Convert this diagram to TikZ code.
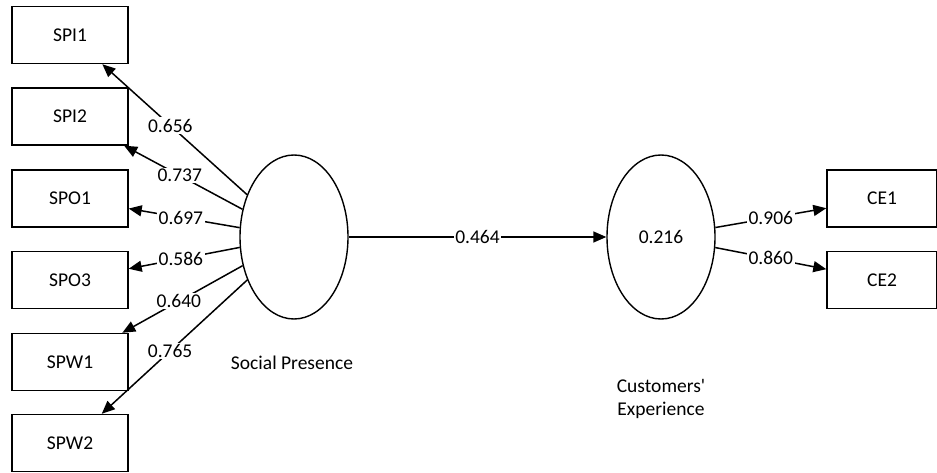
\documentclass[tikz,border=0pt]{standalone}
\usepackage{fontspec}
\setmainfont{Carlito}
\usetikzlibrary{shapes.geometric,arrows.meta}

\begin{document}
\begin{tikzpicture}
[every node/.style={inner sep=0pt, font=\fontsize{19.5pt}{23pt}\selectfont},
 item/.style={rectangle, minimum width=116pt, minimum height=57pt, line width=1.4pt, draw=black},
 latent/.style={ellipse, minimum width=108pt, minimum height=164pt, line width=1.4pt, draw=black},
 loading/.style={line width=1.5pt, -{Triangle[length=13pt,width=11pt]}, color=black},
 wlabel/.style={fill=white, inner sep=1.5pt, pos=0.53}]
\useasboundingbox (0pt,0pt) rectangle (937pt,-473pt);
% indicators of social presence
\node (SPI1) [item] at (70pt, -35pt) {SPI1};
\node (SPI2) [item] at (70pt, -116.5pt) {SPI2};
\node (SPO1) [item] at (70pt, -198.5pt) {SPO1};
\node (SPO3) [item] at (70pt, -280pt) {SPO3};
\node (SPW1) [item] at (70pt, -362pt) {SPW1};
\node (SPW2) [item] at (70pt, -443pt) {SPW2};
% latent variables
\node (SP) [latent] at (294pt, -237pt) {};
\node (SPname) at (292pt, -363pt) {Social Presence};
\node (CE) [latent] at (661pt, -237pt) {0.216};
\node (CEname) [align=center] at (661pt, -399pt) {Customers\textquotesingle\\Experience};
% indicators of customers' experience
\node (CE1) [item, minimum width=110pt] at (882pt, -198.5pt) {CE1};
\node (CE2) [item, minimum width=110pt] at (882pt, -280pt) {CE2};
% paths
\draw [loading] (SP) -- node [wlabel] {0.656} (SPI1);
\draw [loading] (SP) -- node [wlabel] {0.737} (SPI2);
\draw [loading] (SP) -- node [wlabel] {0.697} (SPO1);
\draw [loading] (SP) -- node [wlabel] {0.586} (SPO3);
\draw [loading] (SP) -- node [wlabel] {0.640} (SPW1);
\draw [loading] (SP) -- node [wlabel] {0.765} (SPW2);
\draw [loading] (SP) -- node [wlabel, pos=0.5] {0.464} (CE);
\draw [loading] (CE) -- node [wlabel, pos=0.5] {0.906} (CE1);
\draw [loading] (CE) -- node [wlabel, pos=0.5] {0.860} (CE2);
\end{tikzpicture}
\end{document}
